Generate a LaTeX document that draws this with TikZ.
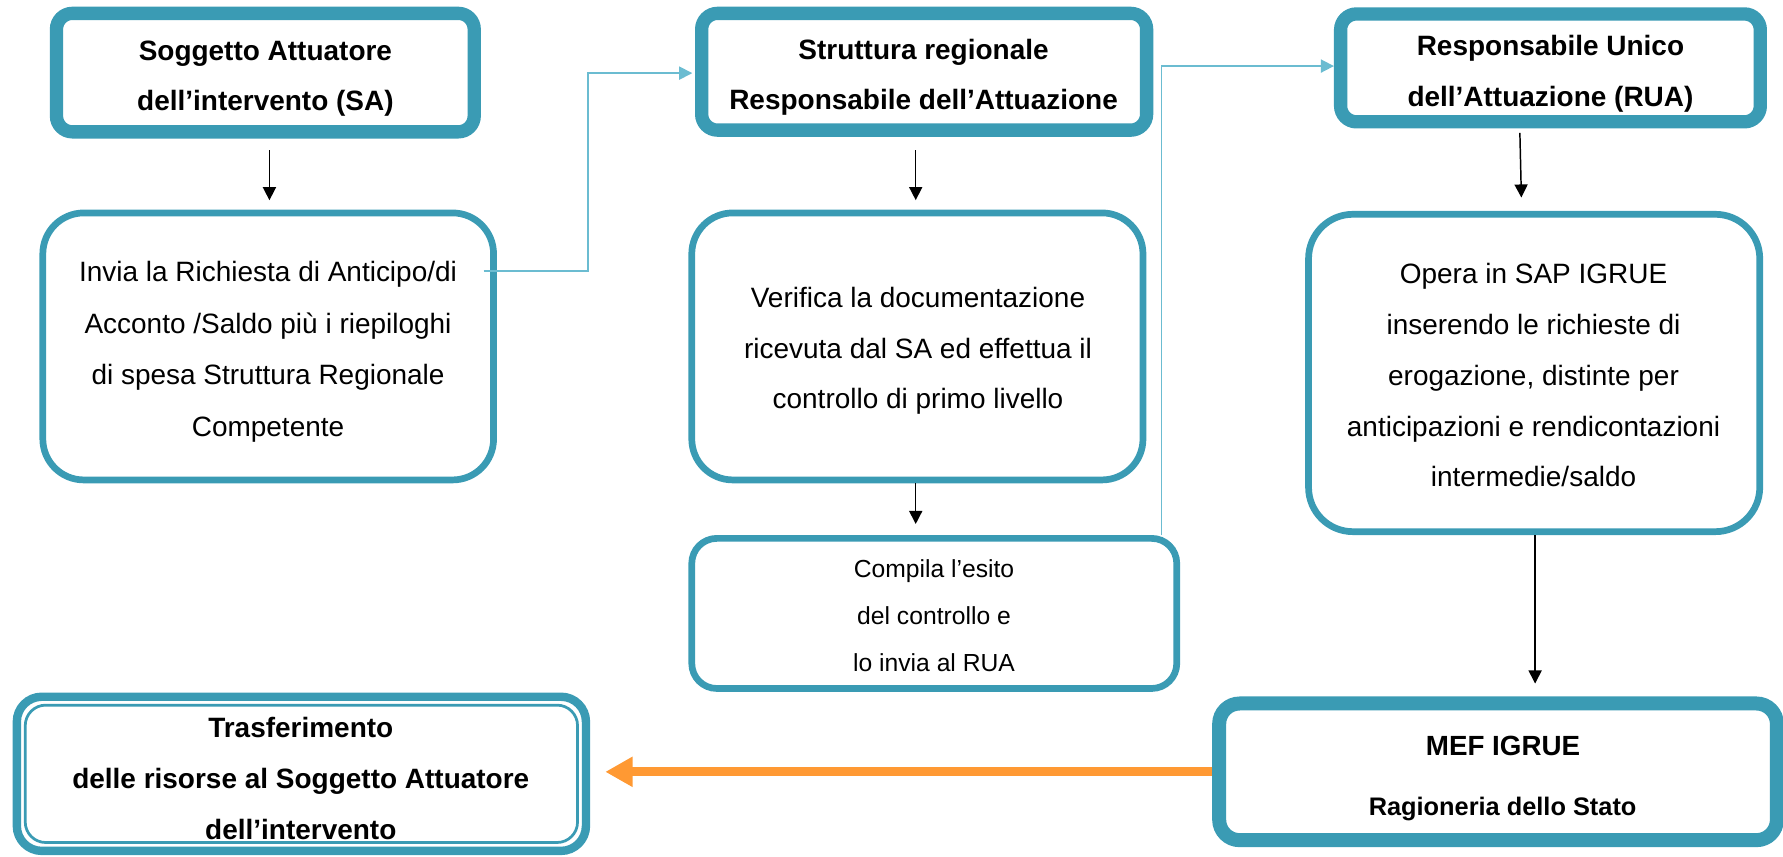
\documentclass[tikz,border=0pt]{standalone}
\usepackage{fontspec}
\setmainfont{Liberation Sans}
\usetikzlibrary{arrows.meta}
\definecolor{tealb}{HTML}{3A9BB4}
\definecolor{connb}{HTML}{6BBCD1}
\definecolor{orng}{HTML}{FF9933}
\newcommand{\mystrut}{\rule[-0.25em]{0pt}{0.95em}}
\begin{document}
\begin{tikzpicture}[x=1pt,y=-1pt,
 thickbox/.style={draw=tealb, line width=11.7pt, rounded corners=14pt, fill=white, inner sep=0pt},
 thinbox/.style={draw=tealb, line width=5.9pt, rounded corners=36pt, fill=white, inner sep=0pt},
 btxt/.style={align=center, inner sep=0pt, font=\fontsize{24.6}{44.5}\selectfont\bfseries},
 rtxt/.style={align=center, inner sep=0pt, font=\fontsize{24.6}{44.5}\selectfont},
 blk/.style={-{Triangle[width=11.5pt,length=11.5pt]}, line width=1.3pt, black},
 lb/.style={connb, line width=1.5pt, -{Triangle[width=11.5pt,length=11.5pt]}},
]
\useasboundingbox (0,0) rectangle (1568,753);

% boxes
\node[thickbox, minimum width=367.4pt, minimum height=104.2pt] (sa) at (233.35,63.85) {};
\node[thickbox, minimum width=391.3pt, minimum height=102.7pt] (strutt) at (812.7,63.1) {};
\node[thickbox, minimum width=369.1pt, minimum height=94.9pt] (rua) at (1363.5,59.7) {};
\node[thinbox, minimum width=396.4pt, minimum height=234.8pt] (invia) at (235.85,304.65) {};
\node[thinbox, minimum width=396.8pt, minimum height=234.8pt] (verif) at (806.75,304.65) {};
\node[thinbox, rounded corners=39pt, minimum width=396.8pt, minimum height=279.1pt] (opera) at (1349.15,328) {};
\node[thinbox, rounded corners=22pt, minimum width=426.5pt, minimum height=132pt] (compila) at (821.6,539.45) {};
\node[thickbox, line width=12.3pt, rounded corners=18pt, minimum width=490.5pt, minimum height=120.2pt] (mef) at (1317.4,678.75) {};
\node[draw=tealb, line width=7.4pt, rounded corners=22pt, fill=white, inner sep=0pt,
  minimum width=500.5pt, minimum height=135.6pt] (tr) at (265.05,680.5) {};
\draw[tealb, line width=2.4pt, rounded corners=18pt]
  ([shift={(11.1pt,-11.1pt)}]tr.north west) rectangle ([shift={(-11.1pt,11.1pt)}]tr.south east);

% texts
\node[btxt] (saT) at (233.4,69.6) {\mystrut Soggetto Attuatore\\\mystrut dell’intervento (SA)};
\node[btxt] (struttT) at (812.2,68.5) {\mystrut Struttura regionale\\\mystrut Responsabile dell’Attuazione};
\node[btxt, font=\fontsize{24.6}{44.9}\selectfont\bfseries] (ruaT) at (1363.5,65) {\mystrut Responsabile Unico\\\mystrut dell’Attuazione (RUA)};
\node[rtxt, font=\fontsize{24.6}{45.3}\selectfont] (inviaT) at (235.7,309.8)
  {\mystrut Invia la Richiesta di Anticipo/di\\\mystrut Acconto /Saldo più i riepiloghi\\\mystrut di spesa Struttura Regionale\\\mystrut Competente};
\node[rtxt] (verifT) at (807.3,309.2)
  {\mystrut Verifica la documentazione\\\mystrut ricevuta dal SA ed effettua il\\\mystrut controllo di primo livello};
\node[rtxt, font=\fontsize{24.6}{44.6}\selectfont] (operaT) at (1348.6,333)
  {\mystrut Opera in SAP IGRUE\\\mystrut inserendo le richieste di\\\mystrut erogazione, distinte per\\\mystrut anticipazioni e rendicontazioni\\\mystrut intermedie/saldo};
\node[rtxt, font=\fontsize{21.7}{41.5}\selectfont] (compilaT) at (821.4,544.3)
  {\mystrut Compila l’esito\\\mystrut del controllo e\\\mystrut lo invia al RUA};
\node[anchor=base, inner sep=0pt, font=\fontsize{24.4}{28}\selectfont\bfseries] (mefA) at (1321.8,664) {MEF IGRUE};
\node[anchor=base, inner sep=0pt, font=\fontsize{22.3}{26}\selectfont\bfseries] (mefB) at (1321.4,717.5) {Ragioneria dello Stato};
\node[btxt, font=\fontsize{24.6}{44.8}\selectfont\bfseries] (trT) at (264.5,687.5)
  {\mystrut Trasferimento\\\mystrut delle risorse al Soggetto Attuatore\\\mystrut dell’intervento};

% black arrows
\draw[blk, shorten <=10.2pt, shorten >=8.2pt] ([xshift=3.6pt]sa.south) -- ([xshift=1.1pt]invia.north);
\draw[blk, shorten <=11.7pt, shorten >=8.3pt] ([xshift=-7.4pt]strutt.south) -- ([xshift=-1.45pt]verif.north);
\draw[blk, shorten >=9.7pt] ([xshift=-1.45pt]verif.south) -- ([xshift=-16.3pt]compila.north);
\draw[blk, shorten <=3.8pt, shorten >=11.8pt] ([xshift=-27pt]rua.south) -- ([xshift=-10.95pt]opera.north);
\draw[blk, shorten >=11.4pt] ([xshift=0.85pt]opera.south) -- ([xshift=32.6pt]mef.north);

% light blue connectors
\draw[lb, shorten >=2.4pt] ([xshift=-11.7pt,yshift=66.35pt]invia.east) -- ++(91.9,0) |- ([yshift=-1.2pt]strutt.west);
\draw[lb] ([xshift=199.7pt]compila.north) |- ([yshift=1.6pt]rua.west);

% orange arrow
\draw[orng, line width=7.8pt, -{Triangle[width=25pt,length=24pt]}, shorten >=13.3pt] (mef.west) -- (mef.west -| tr.east);
\end{tikzpicture}
\end{document}
